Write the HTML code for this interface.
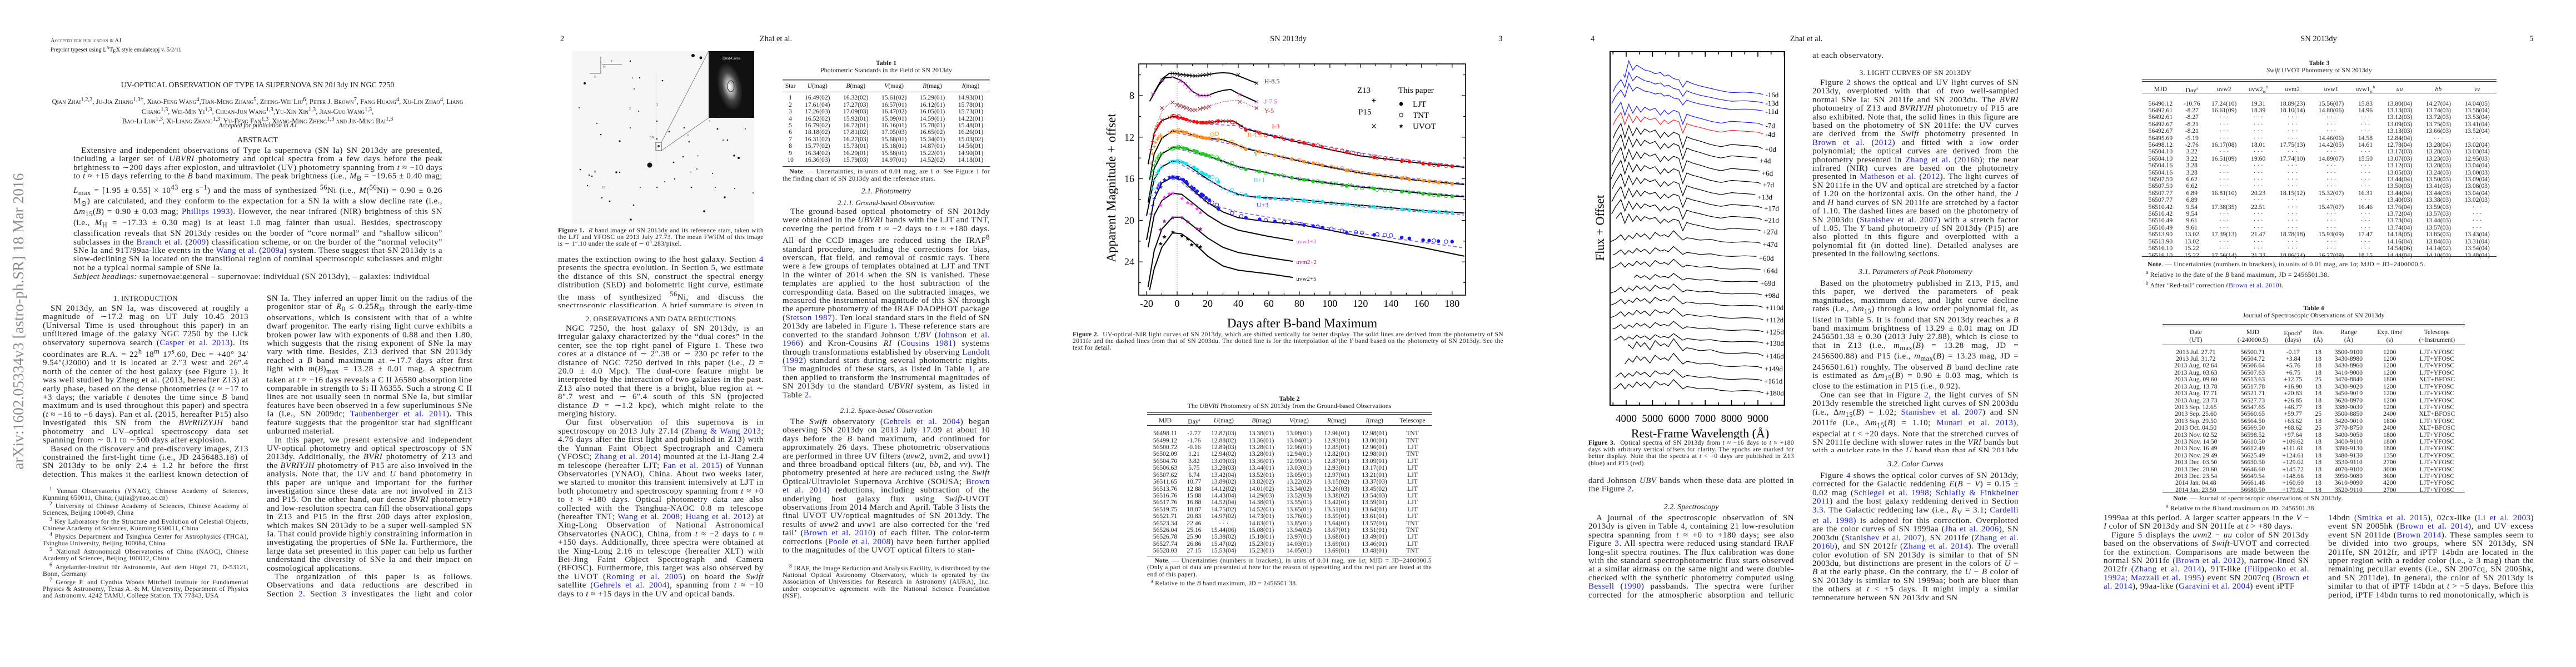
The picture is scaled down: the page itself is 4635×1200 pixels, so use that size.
<!DOCTYPE html>
<html><head><meta charset="utf-8">
<style>
html,body{margin:0;padding:0;background:#fff;}
body{width:4635px;height:1200px;position:relative;overflow:hidden;font-family:"Liberation Serif",serif;color:#1a1a1a;}
.a{position:absolute;}
.col{position:absolute;font-size:15px;line-height:15.4px;text-align:justify;overflow:hidden;letter-spacing:0.45px;}
.col p{margin:0;text-indent:14px;}
.col p.ni{text-indent:0;}
.h{position:absolute;font-size:13px;text-align:center;letter-spacing:0.3px;}
.hi{position:absolute;font-size:14px;font-style:italic;text-align:center;}
.fn{position:absolute;font-size:11.8px;line-height:12.2px;text-align:justify;overflow:hidden;letter-spacing:0.3px;}
.fn p{margin:0;text-indent:12px;}
.c{color:#2020d0;}
.sc{font-variant:small-caps;}
.ph{position:absolute;font-size:14.5px;top:62px;}
table{border-collapse:collapse;font-size:11.6px;}
td,th{padding:0;font-weight:normal;text-align:center;white-space:nowrap;height:12.4px;line-height:12.4px;}
.tt{position:absolute;font-size:12px;text-align:center;line-height:12.5px;}
.rule{position:absolute;height:0;border-top:1px solid #333;}
.note{position:absolute;font-size:11.8px;line-height:13px;text-align:justify;overflow:hidden;letter-spacing:0.3px;}
.note p{margin:0;}
</style></head>
<body>

<!-- ================= PAGE 1 ================= -->
<div class="a" style="left:-262px;top:560px;width:590px;height:36px;transform:rotate(-90deg);font-size:27.5px;color:#8a8a8a;text-align:center;white-space:nowrap;line-height:36px;">arXiv:1602.05334v3  [astro-ph.SR]  18 Mar 2016</div>

<div class="a" style="left:91px;top:68px;font-size:10.5px;line-height:12px;">
<div class="sc">Accepted for publication in AJ</div>
<div>Preprint typeset using L<sup style="font-size:7px">A</sup>T<sub style="font-size:9px">E</sub>X style emulateapj v. 5/2/11</div></div>

<div class="a" style="left:77px;width:773px;top:146px;text-align:center;font-size:14px;">UV-OPTICAL OBSERVATION OF TYPE IA SUPERNOVA SN 2013dy IN NGC 7250</div>
<div class="a" style="left:77px;width:773px;top:173px;text-align:center;font-size:12.6px;line-height:14.5px;font-variant:small-caps;">Qian Zhai<sup>1,2,3</sup>, Ju-Jia Zhang<sup>1,3†</sup>, Xiao-Feng Wang<sup>4</sup>,Tian-Meng Zhang<sup>5</sup>, Zheng-Wei Liu<sup>6</sup>, Peter J. Brown<sup>7</sup>, Fang Huang<sup>4</sup>, Xu-Lin Zhao<sup>4</sup>, Liang Chang<sup>1,3</sup>, Wei-Min Yi<sup>1,3</sup>, Chuan-Jun Wang<sup>1,3</sup>,Yu-Xin Xin<sup>1,3</sup>, Jian-Guo Wang<sup>1,3</sup>,<br>Bao-Li Lun<sup>1,3</sup>, Xi-Liang Zhang<sup>1,3</sup>, Yu-Feng Fan<sup>1,3</sup>, Xiang-Ming Zheng<sup>1,3</sup> and Jin-Ming Bai<sup>1,3</sup></div>
<div class="a" style="left:77px;width:773px;top:220px;text-align:center;font-size:11.5px;font-style:italic;">Accepted for publication in AJ</div>
<div class="a" style="left:77px;width:773px;top:245px;text-align:center;font-size:14px;">ABSTRACT</div>

<div class="col" style="left:132px;top:264px;width:664px;height:240px;">
<p>Extensive and independent observations of Type Ia supernova (SN Ia) SN 2013dy are presented, including a larger set of <i>UBVRI</i> photometry and optical spectra from a few days before the peak brightness to ∼200 days after explosion, and ultraviolet (UV) photometry spanning from <i>t</i> ≈ −10 days to <i>t</i> ≈ +15 days referring to the <i>B</i> band maximum. The peak brightness (i.e., <i>M</i><sub>B</sub> = −19.65 ± 0.40 mag; <i>L</i><sub>max</sub> = [1.95 ± 0.55] × 10<sup>43</sup> erg s<sup>−1</sup>) and the mass of synthesized <sup>56</sup>Ni (i.e., <i>M</i>(<sup>56</sup>Ni) = 0.90 ± 0.26 M<sub>⊙</sub>) are calculated, and they conform to the expectation for a SN Ia with a slow decline rate (i.e., Δ<i>m</i><sub>15</sub>(<i>B</i>) = 0.90 ± 0.03 mag; <span class="c">Phillips 1993</span>). However, the near infrared (NIR) brightness of this SN (i.e., <i>M</i><sub>H</sub> = −17.33 ± 0.30 mag) is at least 1.0 mag fainter than usual. Besides, spectroscopy classification reveals that SN 2013dy resides on the border of “core normal” and “shallow silicon” subclasses in the <span class="c">Branch et al.</span> (<span class="c">2009</span>) classification scheme, or on the border of the “normal velocity” SNe Ia and 91T/99aa-like events in the <span class="c">Wang et al.</span> (<span class="c">2009a</span>) system. These suggest that SN 2013dy is a slow-declining SN Ia located on the transitional region of nominal spectroscopic subclasses and might not be a typical normal sample of SNe Ia.</p>
<p style="padding-left:166px;text-indent:-166px;text-align:left;margin-top:1px"><i>Subject headings:</i> supernovae:general – supernovae: individual (SN 2013dy), – galaxies: individual (NGC 7250).</p>
</div>

<div class="h" style="left:77px;width:370px;top:529px;">1. INTRODUCTION</div>
<div class="col" style="left:77px;top:548px;width:370px;height:310px;">
<p>SN 2013dy, an SN Ia, was discovered at roughly a magnitude of ∼17.2 mag on UT July 10.45 2013 (Universal Time is used throughout this paper) in an unfiltered image of the galaxy NGC 7250 by the Lick observatory supernova search (<span class="c">Casper et al. 2013</span>). Its coordinates are R.A. = 22<sup>h</sup> 18<sup>m</sup> 17<sup>s</sup>.60, Dec = +40° 34′ 9.54″(J2000) and it is located at 2.″3 west and 26″.4 north of the center of the host galaxy (see Figure <span class="c">1</span>). It was well studied by Zheng et al. (2013, hereafter Z13) at early phase, based on the dense photometries (<i>t</i> ≈ −17 to +3 days; the variable <i>t</i> denotes the time since <i>B</i> band maximum and is used throughout this paper) and spectra (<i>t</i> ≈ −16 to −6 days). Pan et al. (2015, hereafter P15) also investigated this SN from the <i>BVrRiIZYJH</i> band photometry and UV–optical spectroscopy data set spanning from ∼ 0.1 to ∼500 days after explosion.</p>
<p>Based on the discovery and pre-discovery images, Z13 constrained the first-light time (i.e., JD 2456483.18) of SN 2013dy to be only 2.4 ± 1.2 hr before the first detection. This makes it the earliest known detection of an</p>
</div>
<div class="fn" style="left:77px;top:874px;width:370px;height:202px;">
<p><sup>1</sup> Yunnan Observatories (YNAO), Chinese Academy of Sciences, Kunming 650011, China; (jujia@ynao.ac.cn)</p>
<p><sup>2</sup> University of Chinese Academy of Sciences, Chinese Academy of Sciences, Beijing 100049, China</p>
<p><sup>3</sup> Key Laboratory for the Structure and Evolution of Celestial Objects, Chinese Academy of Sciences, Kunming 650011, China</p>
<p><sup>4</sup> Physics Department and Tsinghua Center for Astrophysics (THCA), Tsinghua University, Beijing 100084, China</p>
<p><sup>5</sup> National Astronomical Observatories of China (NAOC), Chinese Academy of Sciences, Beijing 100012, China</p>
<p><sup>6</sup> Argelander-Institut für Astronomie, Auf dem Hügel 71, D-53121, Bonn, Germany</p>
<p><sup>7</sup> George P. and Cynthia Woods Mitchell Institute for Fundamental Physics &amp; Astronomy, Texas A. &amp; M. University, Department of Physics and Astronomy, 4242 TAMU, College Station, TX 77843, USA</p>
</div>
<div class="col" style="left:480px;top:530px;width:370px;height:544px;">
<p class="ni">SN Ia. They inferred an upper limit on the radius of the progenitor star of <i>R</i><sub>0</sub> ≤ 0.25<i>R</i><sub>⊙</sub> through the early-time observations, which is consistent with that of a white dwarf progenitor. The early rising light curve exhibits a broken power law with exponents of 0.88 and then 1.80, which suggests that the rising exponent of SNe Ia may vary with time. Besides, Z13 derived that SN 2013dy reached a <i>B</i> band maximum at ∼17.7 days after first light with <i>m</i>(<i>B</i>)<sub>max</sub> = 13.28 ± 0.01 mag. A spectrum taken at <i>t</i> ≈ −16 days reveals a C II λ6580 absorption line comparable in strength to Si II λ6355. Such a strong C II lines are not usually seen in normal SNe Ia, but similar features have been observed in a few superluminous SNe Ia (i.e., SN 2009dc; <span class="c">Taubenberger et al. 2011</span>). This feature suggests that the progenitor star had significant unburned material.</p>
<p>In this paper, we present extensive and independent UV-optical photometry and optical spectroscopy of SN 2013dy. Additionally, the <i>BVRI</i> photometry of Z13 and the <i>BVRIYJH</i> photometry of P15 are also involved in the analysis. Note that, the UV and <i>U</i> band photometry in this paper are unique and important for the further investigation since these data are not involved in Z13 and P15. On the other hand, our dense <i>BVRI</i> photometry and low-resolution spectra can fill the observational gaps in Z13 and P15 in the first 200 days after explosion, which makes SN 2013dy to be a super well-sampled SN Ia. That could provide highly constraining information in investigating the properties of SNe Ia. Furthermore, the large data set presented in this paper can help us further understand the diversity of SNe Ia and their impact on cosmological applications.</p>
<p>The organization of this paper is as follows. Observations and data reductions are described in Section <span class="c">2</span>. Section <span class="c">3</span> investigates the light and color curves, and esti-</p>
</div>

<!-- ================= PAGE 2 ================= -->
<div class="ph" style="left:1008px;">2</div>
<div class="ph" style="left:1346px;width:100px;text-align:center;">Zhai et al.</div>

<svg class="a" style="left:1029px;top:92px;" width="328" height="312" viewBox="0 0 328 312">
<rect x="0" y="0" width="328" height="312" fill="#f6f6f6"/>
<line x1="152" y1="40" x2="152" y2="200" stroke="#ddd" stroke-width="0.6"/>
<g fill="#111">
<circle cx="218" cy="8" r="3"/><circle cx="232" cy="12" r="2.5"/><circle cx="23" cy="58" r="2"/><circle cx="122" cy="48" r="1.2"/><circle cx="163" cy="53" r="1.3"/><circle cx="112" cy="68" r="1"/><circle cx="13" cy="102" r="1"/><circle cx="52" cy="150" r="1.3"/><circle cx="153" cy="126" r="1.2"/><circle cx="105" cy="138" r="1"/><circle cx="175" cy="145" r="1.4"/><circle cx="202" cy="138" r="1.2"/><circle cx="262" cy="140" r="1.4"/><circle cx="312" cy="140" r="1"/><circle cx="272" cy="160" r="1"/><circle cx="153" cy="158" r="1.2"/><circle cx="183" cy="200" r="1.4"/><circle cx="292" cy="188" r="1.7"/><circle cx="300" cy="192" r="2"/><circle cx="140" cy="205" r="4.5"/><circle cx="15" cy="213" r="1.3"/><circle cx="80" cy="218" r="1.8"/><circle cx="86" cy="218" r="1.2"/><circle cx="225" cy="212" r="1"/><circle cx="253" cy="220" r="1"/><circle cx="28" cy="242" r="1.2"/><circle cx="123" cy="245" r="1"/><circle cx="153" cy="245" r="1.2"/><circle cx="215" cy="245" r="1.3"/><circle cx="258" cy="245" r="1"/><circle cx="293" cy="247" r="1"/><circle cx="326" cy="255" r="1"/><circle cx="275" cy="263" r="1.7"/><circle cx="54" cy="264" r="1.2"/><circle cx="111" cy="277" r="1.3"/><circle cx="238" cy="288" r="1.8"/><circle cx="106" cy="303" r="1.7"/><circle cx="86" cy="162" r="1.6"/><circle cx="211" cy="163" r="1.4"/><circle cx="280" cy="160" r="1.3"/><circle cx="31" cy="223" r="1.2"/><circle cx="36" cy="225" r="1.2"/><circle cx="68" cy="270" r="1.4"/><circle cx="167" cy="235" r="1"/><circle cx="185" cy="230" r="1.2"/><circle cx="105" cy="18" r="1.2"/><circle cx="200" cy="190" r="1.2"/><circle cx="120" cy="108" r="1"/><circle cx="45" cy="130" r="1"/></g>
<rect x="151" y="164" width="10" height="15" fill="none" stroke="#222" stroke-width="0.8"/>
<circle cx="156" cy="171" r="2" fill="#333"/>
<line x1="161" y1="164" x2="246" y2="0" stroke="#555" stroke-width="0.7"/>
<line x1="161" y1="179" x2="246" y2="120" stroke="#555" stroke-width="0.7"/>
<defs><radialGradient id="gal" cx="50%" cy="50%" r="50%"><stop offset="0" stop-color="#fff"/><stop offset="0.25" stop-color="#bbb"/><stop offset="0.6" stop-color="#444"/><stop offset="1" stop-color="#111"/></radialGradient></defs>
<rect x="246" y="0" width="82" height="120" fill="#111"/>
<ellipse cx="284" cy="64" rx="22" ry="44" fill="url(#gal)" transform="rotate(-12 284 64)"/>
<ellipse cx="286" cy="63" rx="6" ry="10" fill="none" stroke="#000" stroke-width="0.8"/>
<text x="287" y="15" font-size="7" fill="#eee" text-anchor="middle" font-family="Liberation Serif">Dual-Cores</text>
<g stroke="#444" stroke-width="0.8" fill="none"><path d="M52 18 V40 H32"/><line x1="52" y1="22" x2="52" y2="10"/><line x1="54" y1="24" x2="90" y2="24"/></g>
<g font-size="6" fill="#444" font-family="Liberation Serif"><text x="56" y="30">N</text><text x="40" y="48">E</text><text x="70" y="20">1′</text>
<text x="108" y="50">1</text><text x="103" y="105">2</text><text x="152" y="98">3</text><text x="262" y="120">4</text><text x="246" y="128">5</text><text x="208" y="153">6</text><text x="225" y="191">7</text><text x="212" y="220">8</text><text x="40" y="219">9</text><text x="54" y="247">10</text><text x="140" y="157">SN</text></g>
</svg>
<div class="note" style="left:1004px;top:409px;width:370px;height:40px;font-size:11.6px;line-height:12px;"><p><b>Figure 1.</b> &nbsp;<i>R</i> band image of SN 2013dy and its reference stars, taken with the LJT and YFOSC on 2013 July 27.73. The mean FWHM of this image is ∼ 1″.10 under the scale of ∼ 0″.283/pixel.</p></div>

<div class="col" style="left:1004px;top:460px;width:370px;height:93px;">
<p class="ni">mates the extinction owing to the host galaxy. Section <span class="c">4</span> presents the spectra evolution. In Section <span class="c">5</span>, we estimate the distance of this SN, construct the spectral energy distribution (SED) and bolometric light curve, estimate the mass of synthesized <sup>56</sup>Ni, and discuss the spectroscopic classification. A brief summary is given in Section <span class="c">6</span>.</p></div>
<div class="h" style="left:1004px;width:370px;top:566px;">2. OBSERVATIONS AND DATA REDUCTIONS</div>
<div class="col" style="left:1004px;top:584px;width:370px;height:492px;">
<p>NGC 7250, the host galaxy of SN 2013dy, is an irregular galaxy characterized by the “dual cores” in the center, see the top right panel of Figure <span class="c">1</span>. These two cores at a distance of ∼ 2″.38 or ∼ 230 pc refer to the distance of NGC 7250 derived in this paper (i.e., <i>D</i> = 20.0 ± 4.0 Mpc). The dual-core feature might be interpreted by the interaction of two galaxies in the past. Z13 also noted that there is a bright, blue region at ∼ 8″.7 west and ∼ 6″.4 south of this SN (projected distance <i>D</i> = ∼1.2 kpc), which might relate to the merging history.</p>
<p>Our first observation of this supernova is in spectroscopy on 2013 July 27.14 (<span class="c">Zhang &amp; Wang 2013</span>; 4.76 days after the first light and published in Z13) with the Yunnan Faint Object Spectrograph and Camera (YFOSC; <span class="c">Zhang et al. 2014</span>) mounted at the Li-Jiang 2.4 m telescope (hereafter LJT; <span class="c">Fan et al. 2015</span>) of Yunnan Observatories (YNAO), China. About two weeks later, we started to monitor this transient intensively at LJT in both photometry and spectroscopy spanning from <i>t</i> ≈ +0 to <i>t</i> ≈ +180 days. Optical photometry data are also collected with the Tsinghua-NAOC 0.8 m telescope (hereafter TNT; <span class="c">Wang et al. 2008</span>; <span class="c">Huang et al. 2012</span>) at Xing-Long Observation of National Astronomical Observatories (NAOC), China, from <i>t</i> ≈ −2 days to <i>t</i> ≈ +150 days. Additionally, three spectra were obtained at the Xing-Long 2.16 m telescope (hereafter XLT) with Bei-Jing Faint Object Spectrograph and Camera (BFOSC). Furthermore, this target was also observed by the UVOT (<span class="c">Roming et al. 2005</span>) on board the <i>Swift</i> satellite (<span class="c">Gehrels et al. 2004</span>), spanning from <i>t</i> ≈ −10 days to <i>t</i> ≈ +15 days in the UV and optical bands.</p></div>

<!-- Table 1 -->
<div class="tt" style="left:1408px;width:373px;top:107px;"><b>Table 1</b><br>Photometric Standards in the Field of SN 2013dy</div>
<div class="rule" style="left:1408px;width:373px;top:142px;"></div>
<div class="rule" style="left:1408px;width:373px;top:145px;"></div>
<table class="a" style="left:1408px;top:149px;width:373px;">
<tr><th>Star</th><th><i>U</i>(mag)</th><th><i>B</i>(mag)</th><th><i>V</i>(mag)</th><th><i>R</i>(mag)</th><th><i>I</i>(mag)</th></tr>
<tr><td style="height:9px"></td></tr>
<tr><td>1</td><td>16.49(02)</td><td>16.32(02)</td><td>15.61(02)</td><td>15.29(01)</td><td>14.93(01)</td></tr>
<tr><td>2</td><td>17.61(04)</td><td>17.27(03)</td><td>16.57(01)</td><td>16.12(01)</td><td>15.78(01)</td></tr>
<tr><td>3</td><td>17.26(03)</td><td>17.09(03)</td><td>16.47(02)</td><td>16.05(01)</td><td>15.73(01)</td></tr>
<tr><td>4</td><td>16.52(02)</td><td>15.92(01)</td><td>15.09(01)</td><td>14.59(01)</td><td>14.22(01)</td></tr>
<tr><td>5</td><td>16.79(02)</td><td>16.72(01)</td><td>16.16(01)</td><td>15.78(01)</td><td>15.48(01)</td></tr>
<tr><td>6</td><td>18.18(02)</td><td>17.81(02)</td><td>17.05(03)</td><td>16.65(02)</td><td>16.26(01)</td></tr>
<tr><td>7</td><td>16.31(02)</td><td>16.27(03)</td><td>15.68(01)</td><td>15.34(01)</td><td>15.03(02)</td></tr>
<tr><td>8</td><td>15.77(02)</td><td>15.73(01)</td><td>15.18(01)</td><td>14.87(01)</td><td>14.56(01)</td></tr>
<tr><td>9</td><td>16.34(02)</td><td>16.20(01)</td><td>15.58(01)</td><td>15.22(01)</td><td>14.90(01)</td></tr>
<tr><td>10</td><td>16.36(03)</td><td>15.79(03)</td><td>14.97(01)</td><td>14.52(02)</td><td>14.18(01)</td></tr>
</table>
<div class="rule" style="left:1408px;width:373px;top:165px;"></div>
<div class="rule" style="left:1408px;width:373px;top:299px;"></div>
<div class="note" style="left:1408px;top:302px;width:373px;height:28px;"><p>&nbsp;&nbsp;&nbsp;<b>Note</b>. — Uncertainties, in units of 0.01 mag, are 1 <i>σ</i>. See Figure <span class="c">1</span> for the finding chart of SN 2013dy and the reference stars.</p></div>
<div class="hi" style="left:1408px;width:373px;top:337px;">2.1. <i>Photometry</i></div>
<div class="hi" style="left:1408px;width:373px;top:357px;font-size:13px;">2.1.1. <i>Ground-based Observation</i></div>
<div class="col" style="left:1408px;top:374px;width:373px;height:353px;">
<p>The ground-based optical photometry of SN 2013dy were obtained in the <i>UBVRI</i> bands with the LJT and TNT, covering the period from <i>t</i> ≈ −2 days to <i>t</i> ≈ +180 days. All of the CCD images are reduced using the IRAF<sup>8</sup> standard procedure, including the corrections for bias, overscan, flat field, and removal of cosmic rays. There were a few groups of templates obtained at LJT and TNT in the winter of 2014 when the SN is vanished. These templates are applied to the host subtraction of the corresponding data. Based on the subtracted images, we measured the instrumental magnitude of this SN through the aperture photometry of the IRAF DAOPHOT package (<span class="c">Stetson 1987</span>). Ten local standard stars in the field of SN 2013dy are labeled in Figure <span class="c">1</span>. These reference stars are converted to the standard Johnson <i>UBV</i> (<span class="c">Johnson et al. 1966</span>) and Kron-Cousins <i>RI</i> (<span class="c">Cousins 1981</span>) systems through transformations established by observing <span class="c">Landolt</span> (<span class="c">1992</span>) standard stars during several photometric nights. The magnitudes of these stars, as listed in Table <span class="c">1</span>, are then applied to transform the instrumental magnitudes of SN 2013dy to the standard <i>UBVRI</i> system, as listed in Table <span class="c">2</span>.</p></div>
<div class="hi" style="left:1408px;width:373px;top:731px;font-size:13px;">2.1.2. <i>Space-based Observation</i></div>
<div class="col" style="left:1408px;top:752px;width:373px;height:246px;">
<p>The <i>Swift</i> observatory (<span class="c">Gehrels et al. 2004</span>) began observing SN 2013dy on 2013 July 17.09 at about 10 days before the <i>B</i> band maximum, and continued for approximately 26 days. These photometric observations are performed in three UV filters (<i>uvw</i>2, <i>uvm</i>2, and <i>uvw</i>1) and three broadband optical filters (<i>uu</i>, <i>bb</i>, and <i>vv</i>). The photometry presented at here are reduced using the <i>Swift</i> Optical/Ultraviolet Supernova Archive (SOUSA; <span class="c">Brown et al. 2014</span>) reductions, including subtraction of the underlying host galaxy flux using <i>Swift</i>-UVOT observations from 2014 March and April. Table <span class="c">3</span> lists the final UVOT UV/optical magnitudes of SN 2013dy. The results of <i>uvw</i>2 and <i>uvw</i>1 are also corrected for the ‘red tail’ (<span class="c">Brown et al. 2010</span>) of each filter. The color-term corrections (<span class="c">Poole et al. 2008</span>) have been further applied to the magnitudes of the UVOT optical filters to stan-</p></div>
<div class="fn" style="left:1408px;top:1013px;width:373px;height:65px;"><p><sup>8</sup> IRAF, the Image Reduction and Analysis Facility, is distributed by the National Optical Astronomy Observatory, which is operated by the Association of Universities for Research in Astronomy (AURA), Inc. under cooperative agreement with the National Science Foundation (NSF).</p></div>

<!-- ================= PAGE 3 ================= -->
<div class="ph" style="left:2268px;width:100px;text-align:center;">SN 2013dy</div>
<div class="ph" style="left:2696px;">3</div>

<svg class="a" id="fig2" style="left:1980px;top:100px;" width="730" height="495" viewBox="0 0 730 495"></svg>
<div class="note" style="left:1930px;top:596px;width:775px;height:40px;font-size:11.6px;line-height:12.2px;"><p><b>Figure 2.</b> &nbsp;UV-optical-NIR light curves of SN 2013dy, which are shifted vertically for better display. The solid lines are derived from the photometry of SN 2011fe and the dashed lines from that of SN 2003du. The dotted line is for the interpolation of the <i>Y</i> band based on the photometry of SN 2013dy. See the text for detail.</p></div>

<div class="tt" style="left:2064px;width:512px;top:711px;"><b>Table 2</b><br>The <i>UBVRI</i> Photometry of SN 2013dy from the Ground-based Observations</div>
<div class="rule" style="left:2064px;width:512px;top:742px;"></div>
<div class="rule" style="left:2064px;width:512px;top:745px;"></div>
<div class="rule" style="left:2064px;width:512px;top:765px;"></div>
<table class="a" style="left:2064px;top:749px;width:512px;">
<tr><th>MJD</th><th>Day<sup style="font-size:7px">a</sup></th><th><i>U</i>(mag)</th><th><i>B</i>(mag)</th><th><i>V</i>(mag)</th><th><i>R</i>(mag)</th><th><i>I</i>(mag)</th><th>Telescope</th></tr>
<tr><td style="height:9px"></td></tr>
<tr><td>56498.11</td><td>-2.77</td><td>12.87(03)</td><td>13.38(01)</td><td>13.08(01)</td><td>12.96(01)</td><td>12.98(01)</td><td>TNT</td></tr>
<tr><td>56499.12</td><td>-1.76</td><td>12.88(02)</td><td>13.36(01)</td><td>13.04(01)</td><td>12.93(01)</td><td>13.00(01)</td><td>TNT</td></tr>
<tr><td>56500.72</td><td>-0.16</td><td>12.89(03)</td><td>13.28(01)</td><td>12.96(01)</td><td>12.85(01)</td><td>12.96(01)</td><td>LJT</td></tr>
<tr><td>56502.09</td><td>1.21</td><td>12.94(02)</td><td>13.28(01)</td><td>12.94(01)</td><td>12.82(01)</td><td>12.98(01)</td><td>TNT</td></tr>
<tr><td>56504.70</td><td>3.82</td><td>13.09(03)</td><td>13.36(01)</td><td>12.99(01)</td><td>12.87(01)</td><td>13.09(01)</td><td>LJT</td></tr>
<tr><td>56506.63</td><td>5.75</td><td>13.28(03)</td><td>13.44(01)</td><td>13.03(01)</td><td>12.93(01)</td><td>13.17(01)</td><td>LJT</td></tr>
<tr><td>56507.62</td><td>6.74</td><td>13.42(04)</td><td>13.52(01)</td><td>13.05(01)</td><td>12.97(01)</td><td>13.21(01)</td><td>LJT</td></tr>
<tr><td>56511.65</td><td>10.77</td><td>13.89(02)</td><td>13.82(02)</td><td>13.22(02)</td><td>13.15(02)</td><td>13.37(03)</td><td>LJT</td></tr>
<tr><td>56513.76</td><td>12.88</td><td>14.12(02)</td><td>14.01(02)</td><td>13.34(02)</td><td>13.26(03)</td><td>13.45(02)</td><td>LJT</td></tr>
<tr><td>56516.76</td><td>15.88</td><td>14.43(04)</td><td>14.29(03)</td><td>13.52(03)</td><td>13.38(02)</td><td>13.54(03)</td><td>LJT</td></tr>
<tr><td>56517.76</td><td>16.88</td><td>14.52(04)</td><td>14.38(01)</td><td>13.55(01)</td><td>13.42(01)</td><td>13.59(01)</td><td>LJT</td></tr>
<tr><td>56519.75</td><td>18.87</td><td>14.75(02)</td><td>14.52(01)</td><td>13.65(01)</td><td>13.51(01)</td><td>13.64(01)</td><td>LJT</td></tr>
<tr><td>56521.71</td><td>20.83</td><td>14.97(02)</td><td>14.73(01)</td><td>13.76(01)</td><td>13.59(01)</td><td>13.61(01)</td><td>LJT</td></tr>
<tr><td>56523.34</td><td>22.46</td><td>· · ·</td><td>14.83(01)</td><td>13.85(01)</td><td>13.64(01)</td><td>13.57(01)</td><td>TNT</td></tr>
<tr><td>56526.04</td><td>25.16</td><td>15.44(06)</td><td>15.08(01)</td><td>13.94(02)</td><td>13.67(01)</td><td>13.51(01)</td><td>TNT</td></tr>
<tr><td>56526.78</td><td>25.90</td><td>15.38(02)</td><td>15.18(01)</td><td>13.97(01)</td><td>13.68(01)</td><td>13.49(01)</td><td>LJT</td></tr>
<tr><td>56527.74</td><td>26.86</td><td>15.47(02)</td><td>15.23(01)</td><td>14.03(01)</td><td>13.69(01)</td><td>13.46(01)</td><td>LJT</td></tr>
<tr><td>56528.03</td><td>27.15</td><td>15.53(04)</td><td>15.23(01)</td><td>14.05(01)</td><td>13.69(01)</td><td>13.48(01)</td><td>TNT</td></tr>
</table>
<div class="rule" style="left:2064px;width:512px;top:1000px;"></div>
<div class="note" style="left:2064px;top:1003px;width:512px;height:54px;font-size:11.6px;line-height:12.4px;"><p>&nbsp;&nbsp;&nbsp;<b>Note</b>. — Uncertainties (numbers in brackets), in units of 0.01 mag, are 1<i>σ</i>; MJD = JD−2400000.5 (Only a part of data are presented at here for the reason of typesetting and the rest part are listed at the end of this paper).</p><p>&nbsp;&nbsp;<sup>a</sup> Relative to the <i>B</i> band maximum, JD = 2456501.38.</p></div>

<!-- ================= PAGE 4 ================= -->
<div class="ph" style="left:2862px;">4</div>
<div class="ph" style="left:3200px;width:100px;text-align:center;">Zhai et al.</div>

<svg class="a" id="fig3" style="left:2840px;top:85px;" width="400" height="705" viewBox="0 0 400 705"></svg>
<div class="note" style="left:2858px;top:791px;width:370px;height:52px;font-size:11.6px;line-height:12.2px;"><p><b>Figure 3.</b> &nbsp;Optical spectra of SN 2013dy from <i>t</i> ≈ −16 days to <i>t</i> ≈ +180 days with arbitrary vertical offsets for clarity. The epochs are marked for better display. Note that the spectra at <i>t</i> &lt; +0 days are published in Z13 (blue) and P15 (red).</p></div>
<div class="col" style="left:2858px;top:858px;width:370px;height:32px;"><p class="ni">dard Johnson <i>UBV</i> bands when these data are plotted in the Figure <span class="c">2</span>.</p></div>
<div class="hi" style="left:2858px;width:370px;top:905px;">2.2. <i>Spectroscopy</i></div>
<div class="col" style="left:2858px;top:925px;width:370px;height:154px;">
<p>A journal of the spectroscopic observation of SN 2013dy is given in Table <span class="c">4</span>, containing 21 low-resolution spectra spanning from <i>t</i> ≈ +0 to +180 days; see also Figure <span class="c">3</span>. All spectra were reduced using standard IRAF long-slit spectra routines. The flux calibration was done with the standard spectrophotometric flux stars observed at a similar airmass on the same night and were double-checked with the synthetic photometry computed using <span class="c">Bessell</span> (<span class="c">1990</span>) passbands. The spectra were further corrected for the atmospheric absorption and telluric lines</p></div>

<div class="col" style="left:3261px;top:93px;width:371px;height:17px;"><p class="ni">at each observatory.</p></div>
<div class="h" style="left:3261px;width:371px;top:123px;">3. LIGHT CURVES OF SN 2013DY</div>
<div class="col" style="left:3261px;top:142px;width:371px;height:326px;">
<p>Figure <span class="c">2</span> shows the optical and UV light curves of SN 2013dy, overplotted with that of two well-sampled normal SNe Ia: SN 2011fe and SN 2003du. The <i>BVRI</i> photometry of Z13 and <i>BVRIYJH</i> photometry of P15 are also exhibited. Note that, the solid lines in this figure are based on the photometry of SN 2011fe: the UV curves are derived from the <i>Swift</i> photometry presented in <span class="c">Brown et al.</span> (<span class="c">2012</span>) and fitted with a low order polynomial; the optical curves are derived from the photometry presented in <span class="c">Zhang et al.</span> (<span class="c">2016b</span>); the near infrared (NIR) curves are based on the photometry presented in <span class="c">Matheson et al.</span> (<span class="c">2012</span>). The light curves of SN 2011fe in the UV and optical are stretched by a factor of 1.20 on the horizontal axis. On the other hand, the <i>J</i> and <i>H</i> band curves of SN 2011fe are stretched by a factor of 1.10. The dashed lines are based on the photometry of SN 2003du (<span class="c">Stanishev et al. 2007</span>) with a stretch factor of 1.05. The <i>Y</i> band photometry of SN 2013dy (P15) are also plotted in this figure and overplotted with a polynomial fit (in dotted line). Detailed analyses are presented in the following sections.</p></div>
<div class="hi" style="left:3261px;width:371px;top:482px;">3.1. <i>Parameters of Peak Photometry</i></div>
<div class="col" style="left:3261px;top:503px;width:371px;height:310px;">
<p>Based on the photometry published in Z13, P15, and this paper, we derived the parameters of peak magnitudes, maximum dates, and light curve decline rates (i.e., Δ<i>m</i><sub>15</sub>) through a low order polynomial fit, as listed in Table <span class="c">5</span>. It is found that SN 2013dy reaches a <i>B</i> band maximum brightness of 13.29 ± 0.01 mag on JD 2456501.38 ± 0.30 (2013 July 27.88), which is close to that in Z13 (i.e., <i>m</i><sub>max</sub>(<i>B</i>) = 13.28 mag, JD = 2456500.88) and P15 (i.e., <i>m</i><sub>max</sub>(<i>B</i>) = 13.23 mag, JD = 2456501.61) roughly. The observed <i>B</i> band decline rate is estimated as Δ<i>m</i><sub>15</sub>(<i>B</i>) = 0.90 ± 0.03 mag, which is close to the estimation in P15 (i.e., 0.92).</p>
<p>One can see that in Figure <span class="c">2</span>, the light curves of SN 2013dy resemble the stretched light curves of SN 2003du (i.e., Δ<i>m</i><sub>15</sub>(<i>B</i>) = 1.02; <span class="c">Stanishev et al. 2007</span>) and SN 2011fe (i.e., Δ<i>m</i><sub>15</sub>(<i>B</i>) = 1.10; <span class="c">Munari et al. 2013</span>), especial at <i>t</i> &lt; +20 days. Note that the stretched curves of SN 2011fe decline with slower rates in the <i>VRI</i> bands but with a quicker rate in the <i>U</i> band than that of SN 2013dy and SN 2003du.</p></div>
<div class="hi" style="left:3261px;width:371px;top:828px;">3.2. <i>Color Curves</i></div>
<div class="col" style="left:3261px;top:849px;width:371px;height:230px;">
<p>Figure <span class="c">4</span> shows the optical color curves of SN 2013dy, corrected for the Galactic reddening <i>E</i>(<i>B</i> − <i>V</i>) = 0.15 ± 0.02 mag (<span class="c">Schlegel et al. 1998</span>; <span class="c">Schlafly &amp; Finkbeiner 2011</span>) and the host galaxy reddening derived in Section <span class="c">3.3</span>. The Galactic reddening law (i.e., <i>R</i><sub>V</sub> = 3.1; <span class="c">Cardelli et al. 1998</span>) is adopted for this correction. Overplotted are the color curves of SN 1999aa (<span class="c">Jha et al. 2006</span>), SN 2003du (<span class="c">Stanishev et al. 2007</span>), SN 2011fe (<span class="c">Zhang et al. 2016b</span>), and SN 2012fr (<span class="c">Zhang et al. 2014</span>). The overall color evolution of SN 2013dy is similar to that of SN 2003du, but distinctions are present in the colors of <i>U</i> − <i>B</i> at the early phase. On the contrary, the <i>U</i> − <i>B</i> color of SN 2013dy is similar to SN 1999aa; both are bluer than the others at <i>t</i> &lt; +5 days. It might imply a similar temperature between SN 2013dy and SN</p></div>

<!-- ================= PAGE 5 ================= -->
<div class="ph" style="left:4122px;width:100px;text-align:center;">SN 2013dy</div>
<div class="ph" style="left:4551px;">5</div>

<div class="tt" style="left:3854px;width:638px;top:107px;"><b>Table 3</b><br><i>Swift</i> UVOT Photometry of SN 2013dy</div>
<div class="rule" style="left:3854px;width:638px;top:143px;"></div>
<div class="rule" style="left:3854px;width:638px;top:146px;"></div>
<div class="rule" style="left:3854px;width:638px;top:167px;"></div>
<table class="a" style="left:3854px;top:151px;width:638px;">
<tr><th>MJD</th><th>Day<sup style="font-size:7px">a</sup></th><th>uvw2</th><th>uvw2<sub style="font-size:7px">rc</sub><sup style="font-size:7px">b</sup></th><th>uvm2</th><th>uvw1</th><th>uvw1<sub style="font-size:7px">rc</sub><sup style="font-size:7px">b</sup></th><th><i>uu</i></th><th><i>bb</i></th><th><i>vv</i></th></tr>
<tr><td style="height:9px"></td></tr>
<tr><td>56490.12</td><td>-10.76</td><td>17.24(10)</td><td>19.31</td><td>18.89(23)</td><td>15.56(07)</td><td>15.83</td><td>13.80(04)</td><td>14.27(04)</td><td>14.04(05)</td></tr>
<tr><td>56492.61</td><td>-8.27</td><td>16.61(09)</td><td>18.39</td><td>18.10(14)</td><td>14.80(06)</td><td>14.96</td><td>13.13(03)</td><td>13.74(03)</td><td>13.58(04)</td></tr>
<tr><td>56492.61</td><td>-8.27</td><td>· · ·</td><td>· · ·</td><td>· · ·</td><td>· · ·</td><td>· · ·</td><td>13.12(03)</td><td>13.72(03)</td><td>13.53(04)</td></tr>
<tr><td>56492.67</td><td>-8.21</td><td>· · ·</td><td>· · ·</td><td>· · ·</td><td>· · ·</td><td>· · ·</td><td>13.09(03)</td><td>13.75(03)</td><td>13.41(04)</td></tr>
<tr><td>56492.67</td><td>-8.21</td><td>· · ·</td><td>· · ·</td><td>· · ·</td><td>· · ·</td><td>· · ·</td><td>13.13(03)</td><td>13.66(03)</td><td>13.52(04)</td></tr>
<tr><td>56495.69</td><td>-5.19</td><td>· · ·</td><td>· · ·</td><td>· · ·</td><td>14.46(06)</td><td>14.58</td><td>12.84(04)</td><td>· · ·</td><td>· · ·</td></tr>
<tr><td>56498.12</td><td>-2.76</td><td>16.17(08)</td><td>18.01</td><td>17.75(13)</td><td>14.42(05)</td><td>14.61</td><td>12.78(04)</td><td>13.28(04)</td><td>13.02(04)</td></tr>
<tr><td>56504.10</td><td>3.22</td><td>· · ·</td><td>· · ·</td><td>· · ·</td><td>· · ·</td><td>· · ·</td><td>13.17(03)</td><td>13.28(03)</td><td>13.03(04)</td></tr>
<tr><td>56504.10</td><td>3.22</td><td>16.51(09)</td><td>19.60</td><td>17.74(10)</td><td>14.89(07)</td><td>15.50</td><td>13.07(03)</td><td>13.23(03)</td><td>12.95(03)</td></tr>
<tr><td>56504.16</td><td>3.28</td><td>· · ·</td><td>· · ·</td><td>· · ·</td><td>· · ·</td><td>· · ·</td><td>13.12(03)</td><td>13.28(03)</td><td>13.04(04)</td></tr>
<tr><td>56504.16</td><td>3.28</td><td>· · ·</td><td>· · ·</td><td>· · ·</td><td>· · ·</td><td>· · ·</td><td>13.05(03)</td><td>13.24(03)</td><td>13.00(03)</td></tr>
<tr><td>56507.50</td><td>6.62</td><td>· · ·</td><td>· · ·</td><td>· · ·</td><td>· · ·</td><td>· · ·</td><td>13.44(04)</td><td>13.50(03)</td><td>13.09(04)</td></tr>
<tr><td>56507.50</td><td>6.62</td><td>· · ·</td><td>· · ·</td><td>· · ·</td><td>· · ·</td><td>· · ·</td><td>13.50(03)</td><td>13.41(03)</td><td>13.08(03)</td></tr>
<tr><td>56507.77</td><td>6.89</td><td>16.81(10)</td><td>20.23</td><td>18.15(12)</td><td>15.32(07)</td><td>16.31</td><td>13.44(04)</td><td>13.44(03)</td><td>13.04(04)</td></tr>
<tr><td>56507.77</td><td>6.89</td><td>· · ·</td><td>· · ·</td><td>· · ·</td><td>· · ·</td><td>· · ·</td><td>13.40(03)</td><td>13.38(03)</td><td>13.02(03)</td></tr>
<tr><td>56510.42</td><td>9.54</td><td>17.38(35)</td><td>22.51</td><td>· · ·</td><td>15.47(07)</td><td>16.46</td><td>13.76(04)</td><td>13.59(03)</td><td>· · ·</td></tr>
<tr><td>56510.42</td><td>9.54</td><td>· · ·</td><td>· · ·</td><td>· · ·</td><td>· · ·</td><td>· · ·</td><td>13.72(04)</td><td>13.57(03)</td><td>· · ·</td></tr>
<tr><td>56510.49</td><td>9.61</td><td>· · ·</td><td>· · ·</td><td>· · ·</td><td>· · ·</td><td>· · ·</td><td>13.73(04)</td><td>13.44(03)</td><td>· · ·</td></tr>
<tr><td>56510.49</td><td>9.61</td><td>· · ·</td><td>· · ·</td><td>· · ·</td><td>· · ·</td><td>· · ·</td><td>13.74(04)</td><td>13.57(03)</td><td>· · ·</td></tr>
<tr><td>56513.90</td><td>13.02</td><td>17.39(13)</td><td>21.47</td><td>18.78(18)</td><td>15.93(09)</td><td>17.47</td><td>14.18(05)</td><td>13.85(03)</td><td>13.43(04)</td></tr>
<tr><td>56513.90</td><td>13.02</td><td>· · ·</td><td>· · ·</td><td>· · ·</td><td>· · ·</td><td>· · ·</td><td>14.16(04)</td><td>13.84(03)</td><td>13.31(04)</td></tr>
<tr><td>56516.10</td><td>15.22</td><td>· · ·</td><td>· · ·</td><td>· · ·</td><td>· · ·</td><td>· · ·</td><td>14.54(06)</td><td>14.14(02)</td><td>13.54(04)</td></tr>
<tr><td>56516.10</td><td>15.22</td><td>17.56(14)</td><td>21.33</td><td>18.86(24)</td><td>16.27(09)</td><td>18.15</td><td>14.44(04)</td><td>14.10(03)</td><td>13.48(04)</td></tr>
</table>
<div class="rule" style="left:3854px;width:638px;top:461px;"></div>
<div class="note" style="left:3854px;top:467px;width:638px;height:50px;font-size:12px;line-height:16px;"><p>&nbsp;&nbsp;&nbsp;<b>Note</b>. — Uncertainties (numbers in brackets), in units of 0.01 mag, are 1<i>σ</i>; MJD = JD−2400000.5.</p><p>&nbsp;&nbsp;<sup>a</sup> Relative to the date of the <i>B</i> band maximum, JD = 2456501.38.</p><p>&nbsp;&nbsp;<sup>b</sup> After ‘Red-tail’ correction (<span class="c">Brown et al. 2010</span>).</p></div>

<div class="tt" style="left:3891px;width:544px;top:548px;"><b>Table 4</b><br>Journal of Spectroscopic Observations of SN 2013dy</div>
<div class="rule" style="left:3891px;width:544px;top:583px;"></div>
<div class="rule" style="left:3891px;width:544px;top:586px;"></div>
<div class="rule" style="left:3891px;width:544px;top:620px;"></div>
<table class="a" style="left:3891px;top:590px;width:544px;">
<tr><th>Date</th><th>MJD</th><th>Epoch<sup style="font-size:7px">a</sup></th><th>Res.</th><th>Range</th><th>Exp. time</th><th>Telescope</th></tr>
<tr><th>(UT)</th><th>(-240000.5)</th><th>(days)</th><th>(Å)</th><th>(Å)</th><th>(s)</th><th>(+Instrument)</th></tr>
<tr><td style="height:9px"></td></tr>
<tr><td>2013 Jul. 27.71</td><td>56500.71</td><td>-0.17</td><td>18</td><td>3500-9100</td><td>1200</td><td>LJT+YFOSC</td></tr>
<tr><td>2013 Jul. 31.72</td><td>56504.72</td><td>+3.84</td><td>18</td><td>3430-8980</td><td>1200</td><td>LJT+YFOSC</td></tr>
<tr><td>2013 Aug. 02.64</td><td>56506.64</td><td>+5.76</td><td>18</td><td>3430-8960</td><td>1200</td><td>LJT+YFOSC</td></tr>
<tr><td>2013 Aug. 03.63</td><td>56507.63</td><td>+6.75</td><td>18</td><td>3410-9000</td><td>1200</td><td>LJT+YFOSC</td></tr>
<tr><td>2013 Aug. 09.60</td><td>56513.63</td><td>+12.75</td><td>25</td><td>3470-8840</td><td>1800</td><td>XLT+BFOSC</td></tr>
<tr><td>2013 Aug. 13.78</td><td>56517.78</td><td>+16.90</td><td>18</td><td>3430-9020</td><td>1200</td><td>LJT+YFOSC</td></tr>
<tr><td>2013 Aug. 17.71</td><td>56521.71</td><td>+20.83</td><td>18</td><td>3450-9010</td><td>1200</td><td>LJT+YFOSC</td></tr>
<tr><td>2013 Aug. 23.73</td><td>56527.73</td><td>+26.85</td><td>18</td><td>3620-8970</td><td>1200</td><td>LJT+YFOSC</td></tr>
<tr><td>2013 Sep. 12.65</td><td>56547.65</td><td>+46.77</td><td>18</td><td>3380-9030</td><td>1200</td><td>LJT+YFOSC</td></tr>
<tr><td>2013 Sep. 25.60</td><td>56560.65</td><td>+59.77</td><td>25</td><td>3500-8850</td><td>2400</td><td>XLT+BFOSC</td></tr>
<tr><td>2013 Sep. 29.50</td><td>56564.50</td><td>+63.62</td><td>18</td><td>3420-9010</td><td>1800</td><td>LJT+YFOSC</td></tr>
<tr><td>2013 Oct. 04.50</td><td>56569.50</td><td>+68.62</td><td>25</td><td>3770-8750</td><td>2400</td><td>XLT+BFOSC</td></tr>
<tr><td>2013 Nov. 02.52</td><td>56598.52</td><td>+97.64</td><td>18</td><td>3400-9050</td><td>1800</td><td>LJT+YFOSC</td></tr>
<tr><td>2013 Nov. 14.50</td><td>56610.50</td><td>+109.62</td><td>18</td><td>3400-9110</td><td>1800</td><td>LJT+YFOSC</td></tr>
<tr><td>2013 Nov. 16.49</td><td>56612.49</td><td>+111.61</td><td>18</td><td>3390-9130</td><td>1800</td><td>LJT+YFOSC</td></tr>
<tr><td>2013 Nov. 29.49</td><td>56625.49</td><td>+124.61</td><td>18</td><td>3480-9130</td><td>1350</td><td>LJT+YFOSC</td></tr>
<tr><td>2013 Dec. 03.50</td><td>56630.50</td><td>+129.62</td><td>18</td><td>3530-9110</td><td>2700</td><td>LJT+YFOSC</td></tr>
<tr><td>2013 Dec. 20.60</td><td>56646.60</td><td>+145.72</td><td>18</td><td>4070-9100</td><td>3000</td><td>LJT+YFOSC</td></tr>
<tr><td>2013 Dec. 23.54</td><td>56649.54</td><td>+148.66</td><td>18</td><td>3950-9080</td><td>3600</td><td>LJT+YFOSC</td></tr>
<tr><td>2014 Jan. 04.48</td><td>56661.48</td><td>+160.60</td><td>18</td><td>3610-9090</td><td>4200</td><td>LJT+YFOSC</td></tr>
<tr><td>2014 Jan. 23.50</td><td>56680.50</td><td>+179.62</td><td>18</td><td>3520-9110</td><td>2700</td><td>LJT+YFOSC</td></tr>
</table>
<div class="rule" style="left:3891px;width:544px;top:885px;"></div>
<div class="note" style="left:3891px;top:890px;width:544px;height:32px;font-size:11.6px;line-height:14px;"><p>&nbsp;&nbsp;&nbsp;&nbsp;&nbsp;&nbsp;<b>Note</b>. — Journal of spectroscopic observations of SN 2013dy.</p><p>&nbsp;&nbsp;<sup>a</sup> Relative to the <i>B</i> band maximum on JD. 2456501.38.</p></div>

<div class="col" style="left:3785px;top:925px;width:370px;height:154px;">
<p class="ni">1999aa at this period. A larger scatter appears in the <i>V</i> − <i>I</i> color of SN 2013dy and SN 2011fe at <i>t</i> &gt; +80 days.</p>
<p>Figure <span class="c">5</span> displays the <i>uvm</i>2 − <i>uu</i> color of SN 2013dy based on the observations of <i>Swift</i>-UVOT and corrected for the extinction. Comparisons are made between the normal SN 2011fe (<span class="c">Brown et al. 2012</span>), narrow-lined SN 2012fr (<span class="c">Zhang et al. 2014</span>), 91T-like (<span class="c">Filippenko et al. 1992a</span>; <span class="c">Mazzali et al. 1995</span>) event SN 2007cq (<span class="c">Brown et al. 2014</span>), 99aa-like (<span class="c">Garavini et al. 2004</span>) event iPTF</p></div>
<div class="col" style="left:4189px;top:925px;width:370px;height:154px;">
<p class="ni">14bdn (<span class="c">Smitka et al. 2015</span>), 02cx-like (<span class="c">Li et al. 2003</span>) event SN 2005hk (<span class="c">Brown et al. 2014</span>), and UV excess event SN 2011de (<span class="c">Brown 2014</span>). These samples seem to be divided into two groups, where SN 2013dy, SN 2011fe, SN 2012fr, and iPTF 14bdn are located in the upper region with a redder color (i.e., ≥ 3 mag) than the remaining peculiar events (i.e., SN 2007cq, SN 2005hk, and SN 2011de). In general, the color of SN 2013dy is similar to that of iPTF 14bdn at <i>t</i> &gt; −5 days. Before this period, iPTF 14bdn turns to red monotonically, which is</p></div>

<script>
// ===================== Figure 2 data =====================
const bandNames = ["H-8.5","J-7.5","Y-5","I-3","R-1.5","V","B+1","U+3","uvw1+3","uvm2+2","uvw2+5"];
const bandColors = ["#222222","#e040e0","#a0303a","#ff1010","#ff8c1a","#20cc20","#20e0f0","#1a1aff","#ff40ff","#8b1a8b","#111111"];
const curveDays = [
 [-16,-10,-5,0,5,10,15,20,25,30,35,40,46,52],
 [-18,-12,-8,-3,2,5,10,15,20,25,30,35,40,46,52],
 [-15,-12,-10,-5,0,5,10,15,20,25,30,35,40,46,52],
 [-19,-15,-10,-3,5,12,20,30,37,45,60,80,100,120,140,160,188],
 [-18,-15,-10,-3,5,12,20,30,37,45,60,80,100,120,140,160,188],
 [-19,-15,-10,-3,3,10,20,30,40,60,80,100,120,140,160,188],
 [-20,-15,-10,-3,3,10,20,30,40,50,80,100,120,140,160,188],
 [-20,-15,-10,-3,3,10,20,30,40,60,80,100,120,140,160,188],
 [-19,-15,-10,-3,3,10,20,30,40,60,76],
 [-19,-15,-10,-3,3,10,20,30,40,60,76],
 [-18,-15,-10,-3,3,10,20,30,40,60,76]
];
const curveMags = [
 [7.95,6.4,5.85,5.9,6.0,6.1,6.1,6.0,5.85,5.8,5.85,6.1,6.45,6.8],
 [8.55,7.0,6.3,6.2,6.5,6.8,7.6,8.0,8.0,7.7,7.5,7.4,7.8,8.2,8.6],
 [11.2,10.3,9.5,8.7,8.75,9.0,9.3,9.3,9.1,8.8,8.6,8.5,8.45,8.8,9.25],
 [14.6,11.6,10.4,10.0,10.2,10.6,10.6,10.45,10.45,11.2,11.8,12.5,13.2,13.8,14.15,14.5,14.9],
 [16.1,13.6,12.1,11.4,11.5,11.9,12.1,12.25,12.6,13.1,13.6,14.3,14.9,15.45,15.85,16.2,16.55],
 [18.3,15.0,13.6,13.0,13.0,13.35,13.8,14.3,14.85,15.45,16.05,16.45,16.8,17.05,17.4,17.75],
 [19.55,16.05,14.85,14.3,14.4,15.0,16.05,16.9,17.5,17.75,18.0,18.3,18.55,18.8,19.05,19.3],
 [21.9,17.95,16.4,15.85,16.1,17.05,18.3,19.2,19.75,20.15,20.4,20.95,21.55,22.05,22.6,23.45],
 [22.6,19.5,18.1,17.4,17.5,18.3,19.5,20.4,20.95,21.55,21.95],
 [26.4,22.9,20.85,19.7,19.7,20.5,21.7,22.6,23.1,23.6,23.95],
 [26.7,24.65,22.6,21.2,21.3,22.05,23.45,24.4,24.8,25.15,25.5]
];
const labelDays = [57,57,57,62,46,50,50,52,78,78,78];
const labelMags = [6.6,8.55,9.45,10.95,11.75,13.6,16.1,18.5,22.0,24.0,25.6];
const dashBands = [3,4,5,6,7];
const dashDays = [0,20,40,60,80,100,120,140,160,188];
const dashMags = [
 [10.2,10.75,10.9,11.7,12.35,12.95,13.5,13.95,14.35,14.8],
 [11.6,12.2,12.8,13.6,14.2,14.8,15.3,15.7,16.05,16.45],
 [13.1,13.9,14.9,15.5,15.95,16.35,16.7,17.0,17.3,17.65],
 [14.4,16.1,17.6,17.95,18.2,18.45,18.7,18.95,19.2,19.5],
 [16.0,18.4,19.2,19.7,20.2,20.75,21.25,21.7,22.1,22.65]
];
const ljtBands = [3,4,5,6,7];
const ljtDays = [0,4,6,11,13,16,17,19,21,27,45,54,64,75,83,89,95,111,129,147,152,161,165,171,180];
const ljtMags = [
 [10.05,10.2,10.3,10.5,10.55,10.6,10.6,10.6,10.55,10.45,11.3,11.6,11.95,12.3,12.55,12.75,12.95,13.45,13.95,14.3,14.35,14.55,14.6,14.7,14.8],
 [11.45,11.5,11.55,11.8,11.9,12.0,12.05,12.1,12.1,12.2,13.15,13.4,13.75,14.1,14.35,14.5,14.7,15.2,15.6,15.95,16.05,16.2,16.25,16.35,16.5],
 [13.0,13.05,13.1,13.3,13.4,13.6,13.6,13.7,13.8,14.1,15.1,15.3,15.6,15.9,16.1,16.25,16.35,16.7,16.95,17.25,17.3,17.45,17.5,17.6,17.7],
 [14.3,14.45,14.55,14.9,15.1,15.4,15.5,15.6,15.8,16.3,17.55,17.75,17.9,17.95,18.05,18.15,18.2,18.45,18.7,18.95,19.0,19.1,19.15,19.2,19.25],
 [15.9,16.1,16.3,16.95,17.2,17.5,17.6,17.85,18.05,18.9,19.75,19.9,20.1,20.3,20.45,20.55,20.7,21.2,21.4,21.65,21.75,21.9,21.95,22.0,22.05]
];
const tntBands = [3,4,5,6,7];
const tntDays = [-3,-2,1,23,26,36,42,58,70,80,92,101,108,117,121,131,136,140,168,176];
const tntMags = [
 [9.98,9.95,9.98,10.57,10.51,10.55,11.0,11.8,12.15,12.45,12.8,13.1,13.3,13.6,13.7,13.95,14.05,14.1,14.65,14.75],
 [11.46,11.43,11.32,11.74,11.67,12.45,12.9,13.6,13.95,14.2,14.55,14.85,15.0,15.35,15.45,15.65,15.75,15.8,16.3,16.4],
 [13.08,13.04,12.94,13.85,13.94,14.5,14.95,15.45,15.75,16.0,16.25,16.45,16.6,16.85,16.9,17.05,17.1,17.15,17.55,17.65],
 [14.38,14.36,14.28,15.83,16.08,17.1,17.45,17.8,17.95,18.05,18.2,18.35,18.4,18.6,18.6,18.75,18.8,18.85,19.15,19.2],
 [15.87,15.88,15.94,18.3,18.5,19.3,19.6,20.0,20.2,20.35,20.6,20.8,21.0,21.15,21.2,21.35,21.4,21.45,21.95,22.05]
];
const p15Bands = [0,1,2,3,4,5,6];
const p15Days = [
 [-3,0,2,4,6,8,10,12,15,17,19,21,40,52],
 [-16,-10,-3,2,5,7,9,13,15,17,19,21,41,52],
 [-10,-3,0,2,4,6,8,10,12,15,17,19,21,41,52],
 [-10,-5,2,8,14,22,30,34,38,52,68,85,104,113,127,149,158,172],
 [-10,-5,2,8,14,22,30,34,38,52,68,85,104,113,127,149,158,172],
 [-10,-5,2,8,14,22,30,34,38,52,68,85,104,113,127,149,158,172],
 [-10,-5,2,8,14,22,30,34,38,52,68,85,104,113,127,149,158,172]
];
const p15Mags = [
 [5.85,5.9,6.0,6.0,6.05,6.05,6.1,6.1,6.05,6.0,6.0,5.95,6.0,6.8],
 [7.85,6.5,6.2,6.6,6.9,7.2,7.5,7.9,8.0,8.0,8.0,7.95,7.9,8.6],
 [9.2,8.65,8.9,9.0,9.1,9.2,9.35,9.4,9.4,9.3,9.2,9.15,9.05,8.6,9.2],
 [10.35,10.1,10.15,10.45,10.6,10.55,10.45,10.45,10.6,11.5,12.0,12.6,13.2,13.45,13.85,14.25,14.4,14.65],
 [12.0,11.55,11.45,11.7,11.95,12.15,12.25,12.5,12.75,13.4,13.9,14.45,14.95,15.15,15.55,15.9,16.05,16.35],
 [13.55,13.1,12.95,13.2,13.55,13.9,14.3,14.6,14.8,15.25,15.65,16.1,16.45,16.6,16.85,17.2,17.35,17.55],
 [14.8,14.35,14.35,14.75,15.35,16.3,16.9,17.2,17.45,17.75,17.95,18.15,18.4,18.45,18.65,18.95,19.05,19.2]
];
const z13Bands = [3,4,5,6,7];
const z13Days = [-17,-16,-15,-14,-13,-12,-11];
const z13Mags = [
 [13.2,12.4,11.8,11.3,11.0,10.8,10.6],
 [14.5,13.6,12.9,12.5,12.2,12.0,11.8],
 [15.7,15.2,14.7,14.3,14.0,13.8,13.6],
 [17.6,16.9,16.2,15.7,15.4,15.2,15.0],
 [19.4,18.6,17.9,17.3,16.9,16.6,16.4]
];
const uvotBands = [7,8,9,10];
const uvotDays = [
 [-10.8,-8.3,-5.2,-2.8,3.2,6.9,9.5,13.0,15.2],
 [-10.8,-8.3,-5.2,-2.8,3.2,6.9,9.5,13.0,15.2],
 [-10.8,-8.3,-2.8,3.2,6.9,13.0,15.2],
 [-10.8,-8.3,-2.8,3.2,6.9,9.5,13.0,15.2]
];
const uvotMags = [
 [16.8,16.1,15.85,15.8,16.05,16.45,16.75,17.2,17.55],
 [18.55,17.8,17.45,17.4,17.9,18.3,18.45,18.9,19.25],
 [20.9,20.1,19.75,19.75,20.15,20.8,20.85],
 [22.25,21.6,21.15,21.5,21.8,22.35,22.4,22.55]
];
const xTicks = [-20,0,20,40,60,80,100,120,140,160,180];
const yTicks = [8,12,16,20,24];

(function(){
 const svg = document.getElementById('fig2');
 const NS='http://www.w3.org/2000/svg';
 const L=69,R=657,T=15,B=431;
 const X0=-25.1,X1=188.8,Y0=4.95,Y1=27.2;
 const xs=d=>L+(d-X0)/(X1-X0)*(R-L);
 const ys=m=>T+(m-Y0)/(Y1-Y0)*(B-T);
 function el(tag,attrs,parent){const e=document.createElementNS(NS,tag);for(const k in attrs)e.setAttribute(k,attrs[k]);(parent||svg).appendChild(e);return e;}
 el('line',{x1:xs(0),x2:xs(0),y1:T,y2:B,stroke:'#888','stroke-width':1,'stroke-dasharray':'1.5,2.5'});
 for(let b=0;b<bandNames.length;b++){
  const pts=curveDays[b].map((d,i)=>xs(d).toFixed(1)+','+ys(curveMags[b][i]).toFixed(1)).join(' ');
  const isY=(b===2);
  const p=el('polyline',{points:pts,fill:'none',stroke:isY?'#a0303a':'#000','stroke-width':isY?1:2,'stroke-dasharray':isY?'1.5,1.5':'none'});
  
  
 }
 dashBands.forEach((b,k)=>{
  const pts=dashDays.map((d,i)=>xs(d).toFixed(1)+','+ys(dashMags[k][i]).toFixed(1)).join(' ');
  const p=el('polyline',{points:pts,fill:'none',stroke:'#7a5cff','stroke-width':1.6,'stroke-dasharray':'6,4'});
  
  
 });
 function cross(x,y,s,c,w){el('path',{d:`M${x-s},${y-s}L${x+s},${y+s}M${x-s},${y+s}L${x+s},${y-s}`,stroke:c,'stroke-width':w||1,fill:'none'});}
 function plus(x,y,s,c){el('path',{d:`M${x-s},${y}L${x+s},${y}M${x},${y-s}L${x},${y+s}`,stroke:c,'stroke-width':1.5,fill:'none'});}
 function star(x,y,r,c){let d='';for(let i=0;i<10;i++){const a=-Math.PI/2+i*Math.PI/5;const rr=i%2?r*0.45:r;d+=(i?'L':'M')+(x+rr*Math.cos(a)).toFixed(1)+','+(y+rr*Math.sin(a)).toFixed(1);}el('path',{d:d+'Z',fill:c});}
 p15Bands.forEach((b,k)=>{p15Days[k].forEach((d,i)=>cross(xs(d),ys(p15Mags[k][i]),3.2,bandColors[b],1));});
 tntBands.forEach((b,k)=>{tntDays.forEach((d,i)=>el('circle',{cx:xs(d),cy:ys(tntMags[k][i]),r:3.2,fill:'none',stroke:bandColors[b],'stroke-width':1}));});
 ljtBands.forEach((b,k)=>{ljtDays.forEach((d,i)=>el('circle',{cx:xs(d),cy:ys(ljtMags[k][i]),r:3.3,fill:bandColors[b]}));});
 z13Bands.forEach((b,k)=>{z13Days.forEach((d,i)=>plus(xs(d),ys(z13Mags[k][i]),3,bandColors[b]));});
 uvotBands.forEach((b,k)=>{uvotDays[k].forEach((d,i)=>star(xs(d),ys(uvotMags[k][i]),4,bandColors[b]));});
 bandNames.forEach((n,b)=>{const t=el('text',{x:xs(labelDays[b]),y:ys(labelMags[b])+4,'font-size':b>=8?11:12,fill:bandColors[b]==='#222222'?'#222':bandColors[b],'font-family':'Liberation Serif'});t.textContent=n;});
 el('rect',{x:L,y:T,width:R-L,height:B-T,fill:'none',stroke:'#000','stroke-width':1.6});
 for(let d=-20;d<=180;d+=10){const maj=(d%20===0);const h=maj?7:4;el('line',{x1:xs(d),x2:xs(d),y1:B,y2:B-h,stroke:'#000','stroke-width':1.2});el('line',{x1:xs(d),x2:xs(d),y1:T,y2:T+h,stroke:'#000','stroke-width':1.2});}
 xTicks.forEach(d=>{const t=el('text',{x:xs(d),y:B+21,'text-anchor':'middle','font-size':18,'font-family':'Liberation Serif'});t.textContent=d;});
 for(let m=6;m<=26;m+=2){const maj=(m%4===0);const h=maj?7:4;el('line',{x1:L,x2:L+h,y1:ys(m),y2:ys(m),stroke:'#000','stroke-width':1.2});el('line',{x1:R,x2:R-h,y1:ys(m),y2:ys(m),stroke:'#000','stroke-width':1.2});}
 yTicks.forEach(m=>{const t=el('text',{x:L-8,y:ys(m)+6,'text-anchor':'end','font-size':18,'font-family':'Liberation Serif'});t.textContent=m;});
 const xl=el('text',{x:(L+R)/2,y:B+58,'text-anchor':'middle','font-size':23,'font-family':'Liberation Serif'});xl.textContent='Days after B-band Maximum';
 
 
 const yl=el('text',{x:0,y:0,'text-anchor':'middle','font-size':23,'font-family':'Liberation Serif',transform:`translate(27,${(T+B)/2+15}) rotate(-90)`});yl.textContent='Apparent Magnitude + offset';
 
 
 const lg=el('g',{});
 
 
 function lt(x,y,s,sz){const t=el('text',{x:x,y:y,'font-size':sz||15,'font-family':'Liberation Serif'},lg);t.textContent=s;}
 lt(462,67,'Z13');lt(536,67,'This paper');plus(492,81,3.5,'#000');
 el('circle',{cx:541,cy:87,r:3.3,fill:'#000'},lg);lt(562,92,'LJT');
 lt(464,106,'P15');el('circle',{cx:541,cy:107,r:3.3,fill:'none',stroke:'#000'},lg);lt(562,112,'TNT');
 cross(492,127,3.5,'#000',1.2);star(541,127,4,'#000');lt(562,132,'UVOT');
})();

// ===================== Figure 3 data =====================
const specEpochs = ["-16d","-13d","-11d","-7d","-4d","+0d","+4d","+6d","+7d","+13d","+17d","+21d","+27d","+47d","+60d","+64d","+69d","+98d","+110d","+112d","+125d","+130d","+146d","+149d","+161d","+180d"];
const specOffsets = [87.9,85.5,83.2,79.2,76.7,72.5,69.3,65.7,62.4,59.0,55.7,52.4,49.1,45.6,41.7,38.1,34.6,31.1,27.7,24.2,20.8,17.6,14.0,10.4,6.9,3.5];
const specTemplate = [0,0,0,1,1,1,1,1,1,1,1,1,1,2,2,2,2,2,2,2,2,2,2,2,2,2];
const specAmp = [1.1,1.0,0.9,0.9,0.85,1.0,1.0,1.0,0.95,0.9,0.85,0.8,0.75,0.7,0.6,0.6,0.5,0.6,0.6,0.6,0.55,0.5,0.9,0.8,0.6,0.7];
const specStart = [3900,3500,3450,3550,3500,3500,3450,3450,3420,3470,3450,3450,3620,3400,3500,3420,4300,3400,3400,3400,3480,3530,4070,3950,3610,3520];
const specEnd = [9200,9200,9200,9200,9200,9180,8980,9060,9100,8900,9150,9150,9100,9100,8950,9100,9000,9160,9200,9200,9200,9200,9200,9160,9150,9200];
const specColors = ["#1a1aff","#1a1aff","#1a1aff","#1a1aff","#ff2020"];
const tmplWl = [
 [3400,3600,3800,3950,4100,4250,4400,4550,4700,4900,5100,5300,5450,5600,5800,6000,6150,6300,6500,6800,7200,7600,8000,8500,9000,9200],
 [3400,3600,3800,3950,4100,4250,4400,4550,4700,4900,5100,5300,5450,5600,5800,6000,6150,6300,6500,6800,7200,7600,8000,8500,9000,9200],
 [3400,3600,3800,3950,4100,4250,4400,4550,4700,4900,5100,5300,5450,5600,5800,6000,6150,6300,6500,6800,7200,7600,8000,8500,9000,9200]
];
const tmplFlux = [
 [10,30,42,28,55,40,48,44,40,38,34,36,30,32,26,24,12,22,18,14,10,6,3,4,2,0],
 [8,30,46,20,42,24,38,26,36,30,34,20,30,22,30,26,2,22,18,14,8,4,8,6,4,0],
 [6,12,24,10,22,14,28,18,26,12,30,20,24,18,34,20,10,16,14,10,12,6,4,6,4,0]
];
const wlTicks = [4000,5000,6000,7000,8000,9000];

(function(){
 const svg=document.getElementById('fig3');
 const NS='http://www.w3.org/2000/svg';
 const L=57,R=371,T=8,B=644;
 const W0=3388,W1=10013;
 const xs=w=>L+(w-W0)/(W1-W0)*(R-L);
 const ys=f=>B-f/100*(B-T);
 const pxToF=100/(B-T);
 function el(tag,attrs){const e=document.createElementNS(NS,tag);for(const k in attrs)e.setAttribute(k,attrs[k]);svg.appendChild(e);return e;}
 function interp(wl,fl,w){for(let i=1;i<wl.length;i++){if(w<=wl[i]){const t=(w-wl[i-1])/(wl[i]-wl[i-1]);return fl[i-1]+t*(fl[i]-fl[i-1]);}}return fl[fl.length-1];}
 specEpochs.forEach((lab,s)=>{
  const tp=specTemplate[s];const wl=tmplWl[tp];const fl=tmplFlux[tp];
  const pts=[];
  const ws=[specStart[s]].concat(wl.filter(w=>w>specStart[s]&&w<specEnd[s])).concat([specEnd[s]]);
  ws.forEach(w=>{const f=specOffsets[s]+interp(wl,fl,w)*specAmp[s]*pxToF;pts.push(xs(w).toFixed(1)+','+ys(f).toFixed(1));});
  const p=el('polyline',{points:pts.join(' '),fill:'none',stroke:specColors[s]||'#000','stroke-width':1.2});
  
  
  const t=el('text',{x:xs(specEnd[s])+4,y:ys(specOffsets[s])+5,'font-size':13,'font-family':'Liberation Serif'});
  t.textContent=lab;
  
  
 });
 el('rect',{x:L,y:T,width:R-L,height:B-T,fill:'none',stroke:'#000','stroke-width':2});
 for(let w=3500;w<=10000;w+=500){const maj=(w%1000===0);const h=maj?9:5;el('line',{x1:xs(w),x2:xs(w),y1:T,y2:T+h,stroke:'#000','stroke-width':1.6});el('line',{x1:xs(w),x2:xs(w),y1:B,y2:B-h,stroke:'#000','stroke-width':1.6});}
 wlTicks.forEach(w=>{const t=el('text',{x:xs(w),y:B+30,'text-anchor':'middle','font-size':19,'font-family':'Liberation Serif'});t.textContent=w;});
 const xl=el('text',{x:(L+R)/2+5,y:B+58,'text-anchor':'middle','font-size':22,'font-family':'Liberation Serif'});xl.textContent='Rest-Frame Wavelength (Å)';
 
 
 const yl=el('text',{x:0,y:0,'text-anchor':'middle','font-size':22,'font-family':'Liberation Serif',transform:`translate(46,325) rotate(-90)`});yl.textContent='Flux + Offset';
 
 
})();
</script>
</body></html>
